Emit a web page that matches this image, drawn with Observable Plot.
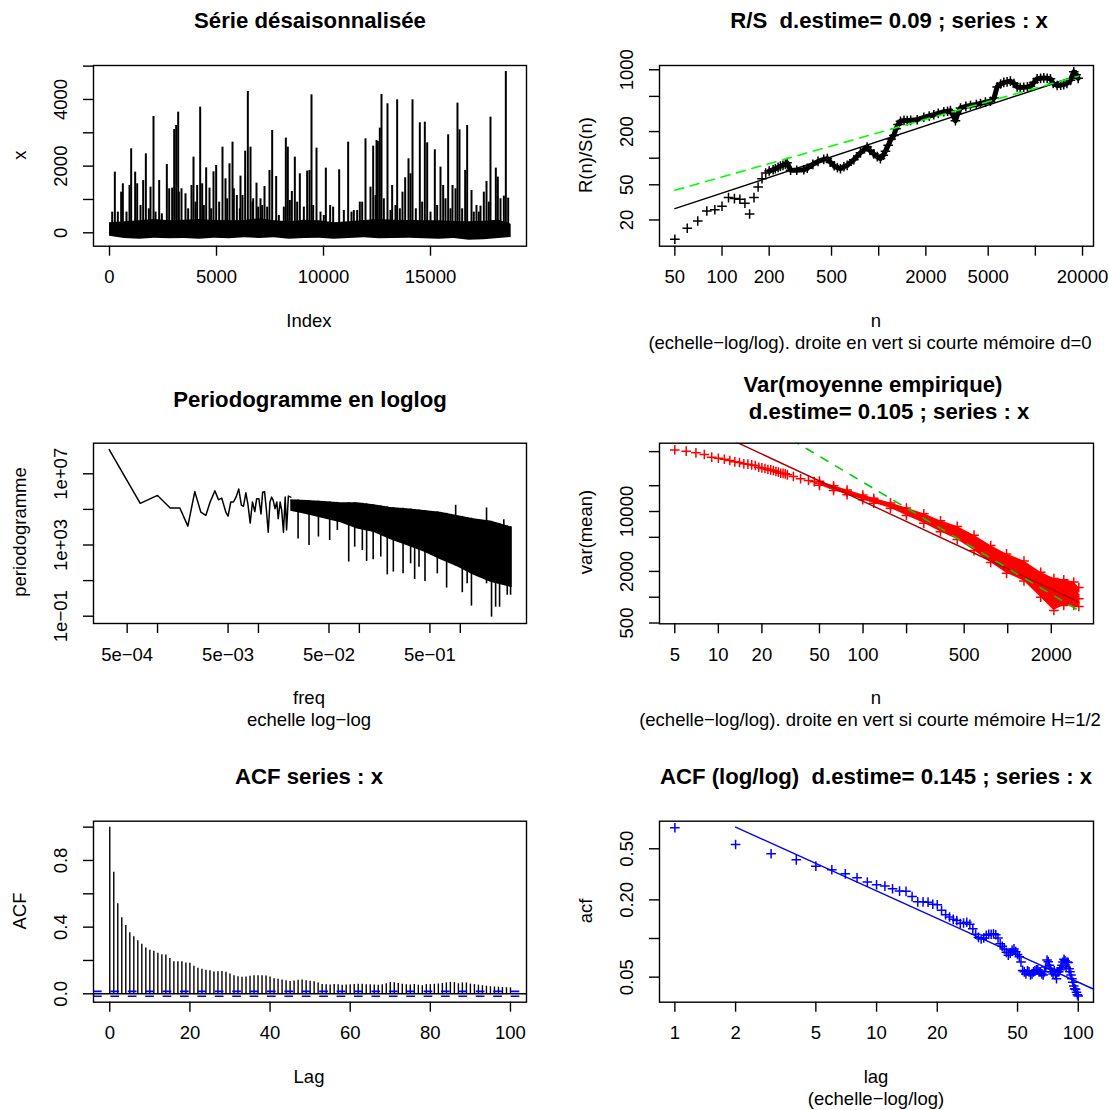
<!DOCTYPE html>
<html><head><meta charset="utf-8">
<script src="https://cdn.jsdelivr.net/npm/d3@7"></script>
<script src="https://cdn.jsdelivr.net/npm/@observablehq/plot@0.6"></script>
<style>
body{margin:0;background:#fff;}
#wrap{position:relative;width:1109px;height:1110px;overflow:hidden;background:#fff;font-family:"Liberation Sans",Arial,Helvetica,sans-serif;}
.t{position:absolute;white-space:pre;line-height:1;color:#000;}
</style></head><body><div id="wrap"></div>
<script>
// ---------------- DATA ----------------
// Panel 1: deseasonalised series (read spikes + baseline envelope)
const spikeIdx = [
 249,545,623,935,1012,1199,1293,1573,1698,1916,
 2056,2321,2679,2788,3022,3115,3209,3364,3551,3832,
 3925,4096,4237,4330,4517,4673,4860,4984,5280,5420,
 5607,5748,5950,6121,6339,6464,6589,6713,6869,7056,
 7243,7476,7601,7788,8240,8333,8520,8660,8894,9237,
 9346,9439,9673,10109,10311,10732,11152,11417,11697,11962,
 12321,12477,12539,12632,12710,12990,13208,13442,13691,13816,
 13972,14065,14159,14501,14735,14844,15202,15467,15592,15825,
 16028,16261,16355,16620,16713,16916,17149,17336,17492,17617,
 17803,18053,18146,18427,18520,18629,
 125,389,794,1449,1838,2150,2445,2928,3240,3676,
 4019,4408,4751,5125,5498,5810,6090,6215,6682,6947,
 7134,7367,7913,8146,8427,8769,9081,9517,9860,10015,
 10451,10950,11308,11573,11807,12196,12430,12819,13131,13364,
 13567,14314,14610,15000,15311,15701,15934,16168,16479,17024,
 17258,17725,18271];
const spikeVal = [
 1820,1220,1470,1420,2520,1820,1470,1570,2370,1370,
 3490,1570,2050,1320,3100,3220,3620,1320,1170,1420,
 2270,1420,3770,1470,1950,1340,1830,2020,2570,1620,
 2070,2720,1120,1700,2450,4240,2570,1020,1490,1020,
 1390,1870,3070,1690,2840,2570,1240,2270,1770,1850,
 1870,4140,2540,1940,820,1890,2720,670,920,2820,
 2600,2770,2740,3140,4150,3870,1420,3990,1220,1650,
 2220,1770,3990,3300,3320,2700,2490,1970,1420,2940,
 1420,3890,3090,1870,3220,1270,820,800,1220,1540,
 3470,1940,1670,1100,4840,1040,
 620,620,620,820,720,620,570,1340,1220,720,
 920,820,720,920,1020,1320,720,1120,920,770,
 820,770,520,770,970,920,770,820,620,520,
 770,670,620,670,920,1370,1120,1020,670,820,
 720,720,920,620,820,1020,720,1320,720,620,
 620,920,1020];
const envIdx  = [1,700,1400,2100,2800,3500,4200,4900,5600,6300,7000,7700,8400,9100,9800,10500,11200,11900,12600,13300,14000,14700,15400,16100,16800,17500,18200,18770];
const envLow  = [-100,-170,-190,-160,-180,-170,-190,-160,-180,-150,-170,-150,-190,-170,-160,-190,-170,-150,-180,-170,-160,-180,-190,-170,-220,-210,-170,-140];
const envHigh = [300,330,360,400,360,380,400,370,360,370,420,360,330,380,360,300,330,370,400,380,370,360,360,340,330,350,380,260];

// Panel 2: R/S statistic
const rsN = [
 50,60,70,80,90,100,110,120,130,140,
 150,160,170,180,190];
const rsVal = [
 12.1,16.1,19.5,25.3,26.1,28.6,35.8,34.9,34.3,31.0,
 23.4,35.8,47.2,58.7,68.0];
const rsDenseN = [
 200,212,219,228,236,245,254,260,274,300,
 333,350,380,410,446,470,492,520,545,570,
 600,629,694,765,844,880,931,980,1026,1070,
 1104,1150,1200,1249,1290,1330,1378,1450,1520,1600,
 1761,1941,2100,2248,2400,2605,2750,2871,2950,3090,
 3200,3327,3600,3854,4200,4465,4800,5170,5450,5700,
 6000,6290,6600,6930,7300,7650,8000,8430,8900,9300,
 9800,10260,10800,11320,11900,12480,13000,13770,14500,15180,
 15900,16750,17590,18200,18760];
const rsDenseVal = [
 71.6,74,76,78.6,81.3,83,85.6,89,73,73,
 74,77,85,92,97,99,90,82,78,76,
 80,83,96,115,134,122,112,104,99,108,
 120,140,165,181,215,240,262,268,266,268,
 272,290,300,310,322,335,340,345,320,265,
 320,370,385,395,405,415,430,440,480,640,
 690,720,730,745,700,640,630,635,640,650,
 720,790,800,810,800,790,700,665,670,680,
 700,760,950,880,800];
const rsFitN = [50, 18760];
const rsFitVal = [26.9, 862];
const rsShortN = [50, 18760];
const rsShortVal = [43.3, 847];

// Panel 3: periodogram
const pgFreq = [3.32e-4,6.74e-4,1.0e-3,1.335e-3,1.664e-3,1.997e-3,2.34e-3,2.686e-3,3.01e-3,3.32e-3,
 3.7e-3,4.02e-3,4.33e-3,4.75e-3,5.0e-3,5.32e-3,5.65e-3,6.0e-3,6.38e-3,6.78e-3,
 7.1e-3,7.5e-3,7.86e-3,8.28e-3,8.72e-3,9.2e-3,9.6e-3,1.01e-2,1.06e-2,1.1e-2,
 1.15e-2,1.2e-2,1.25e-2,1.3e-2,1.35e-2,1.4e-2,1.46e-2,1.52e-2,1.57e-2,1.64e-2,
 1.7e-2,1.77e-2,1.84e-2,1.9e-2,1.98e-2,2.09e-2];
const pgVal = [2.3e8,2.2e5,6.1e5,1.2e5,1.2e5,1.15e4,1.0e6,7.0e4,4.6e4,2.6e5,
 1.1e6,3.5e5,4.3e5,7.0e4,4.2e4,2.6e5,2.6e5,4.9e5,1.4e6,1.7e5,
 1.5e5,8.5e5,2.0e5,1.7e4,2.6e5,7.6e4,4.0e5,4.0e5,5.6e4,9.3e5,
 1.0e6,8.7e4,5.2e3,2.6e5,4.9e5,3.2e5,1.1e5,2.6e5,3.0e4,2.6e5,
 8.7e4,5.2e3,4.9e5,7.1e3,5.6e5,4.9e5];
const pgBandFreq = [2.09e-2,3.06e-2,4.47e-2,6.53e-2,9.55e-2,0.140,0.204,0.299,0.437,0.638,0.934,1.36,2.0,3.27];
const pgBandTop  = [3.5e5,3.2e5,2.8e5,2.4e5,2.4e5,1.8e5,1.3e5,1.1e5,8.7e4,7.0e4,4.6e4,3.0e4,2.2e4,1.0e4];
const pgBandBot  = [8.0e4,5.0e4,3.0e4,1.8e4,8.0e3,5.0e3,2.0e3,900,400,150,60,20,8,4];
const pgDipFreq = [2.47e-2,3.17e-2,3.93e-2,5.08e-2,6.05e-2,7.84e-2,8.99e-2,0.107,0.118,0.137,
 0.163,0.189,0.217,0.271,0.322,0.353,0.390,0.447,0.592,0.732,
 1.047,1.17,1.29,1.82,2.04,2.24,2.45,2.92,3.15];
const pgDipVal = [2.2e3,940,2.8e3,1.8e3,6.5e3,110,760,490,120,150,
 210,21,30,24,88,11.6,57,8.9,24,3.8,
 2.1,6.6,0.37,6.6,0.089,0.32,0.32,1.5,1.5];
const pgPeakFreq = [0.900,1.82,2.70];
const pgPeakVal = [1.7e5,1.2e5,2.6e4];

// Panel 4: variance of the empirical mean
const vmN = [5,6,7,8,9,10,11,12,13,14,15,16,17,18,19,20,21,22,23,24,25,26,27,28,29,30,33,37,42,46];
const vmVal = [52400,50600,48400,46300,43100,41900,40800,39400,38000,37300,36000,35700,35000,34400,32900,32300,31800,30900,30600,30100,29300,28800,28000,27900,27500,26800,25600,24100,23000,22300];
const vbN    = [50,62.6,77.6,99.6,118.6,154.8,199.4,263,343,448,585,763,982,1295,1690,2085,2440,2860,3100];
const vbMid  = [21400,18900,16800,14700,13400,11750,10000,8440,6870,5740,4390,3210,2560,2050,1500,1250,1200,1095,957];
const vbLow  = [20200,17600,15700,13700,12500,10900,9000,7300,5800,4700,3500,2550,1900,1550,1000,700,800,800,780];
const vbHigh = [22600,20000,17800,15600,14300,12600,11000,9400,7800,6700,5300,4000,3200,2650,1950,1650,1600,1500,1300];
const vmFitN = [5, 3050];
const vmFitVal = [139500, 891];
const vmShortN = [5, 3050];
const vmShortVal = [445000, 711];

// Panel 5 & 6: autocorrelation, lags 0..100
const acfVal = [1,
 0.729,0.54,0.457,0.41,0.366,0.343,0.319,0.297,0.275,0.262,
 0.256,0.244,0.234,0.233,0.212,0.193,0.193,0.192,0.185,0.183,
 0.166,0.153,0.147,0.141,0.138,0.131,0.132,0.134,0.129,0.119,
 0.108,0.102,0.099,0.101,0.106,0.108,0.108,0.109,0.107,0.101,
 0.091,0.087,0.083,0.078,0.074,0.077,0.081,0.083,0.079,0.075,
 0.072,0.0655,0.0564,0.055,0.053,0.056,0.055,0.052,0.053,0.055,
 0.056,0.057,0.057,0.055,0.055,0.053,0.052,0.055,0.06,0.068,
 0.066,0.062,0.058,0.055,0.053,0.056,0.052,0.0486,0.055,0.055,
 0.057,0.059,0.062,0.0655,0.069,0.067,0.06,0.0655,0.065,0.058,
 0.055,0.052,0.0486,0.0457,0.0426,0.0406,0.040,0.0381,0.0365,0.0356];
const acfCI = 0.0143;
const acfFitLag = [2, 120];
const acfFitVal = [0.737, 0.0401];

// Tick values and labels
const p1xT = [0,5000,10000,15000], p1xL = ["0","5000","10000","15000"];
const p1yT = [0,1000,2000,3000,4000,5000], p1yL = ["0","","2000","","4000",""];
const p2xT = [50,100,200,500,1000,2000,5000,10000,20000], p2xL = ["50","100","200","500","","2000","5000","","20000"];
const p2yT = [20,50,100,200,500,1000], p2yL = ["20","50","","200","","1000"];
const p3xT = [5e-4,1e-3,5e-3,1e-2,5e-2,1e-1,5e-1,1], p3xL = ["5e\u221204","","5e\u221203","","5e\u221202","","5e\u221201",""];
const p3yT = [1e-1,1e1,1e3,1e5,1e7], p3yL = ["1e\u221201","","1e+03","","1e+07"];
const p4xT = [5,10,20,50,100,200,500,1000,2000], p4xL = ["5","10","20","50","100","","500","","2000"];
const p4yT = [500,1000,2000,5000,10000,20000,50000], p4yL = ["500","","2000","","10000","",""];
const p5xT = [0,20,40,60,80,100], p5xL = ["0","20","40","60","80","100"];
const p5yT = [0,0.2,0.4,0.6,0.8,1.0], p5yL = ["0.0","","0.4","","0.8",""];
const p6xT = [1,2,5,10,20,50,100], p6xL = ["1","2","5","10","20","50","100"];
const p6yT = [0.05,0.1,0.2,0.5], p6yL = ["0.05","","0.20","0.50"];

// ---------------- DRAWING ----------------
const FONT = '"Liberation Sans", Arial, Helvetica, sans-serif';
const AX = 18.5, TI = 22.2;
const wrap = document.getElementById("wrap");
const zip = (a, b) => a.map((d, i) => ({x: d, y: b[i]}));

function panel(cell, box, xs, ys, marks, xT, xL, yT, yL) {
  const [cx, cy, cw, ch] = cell, [x0, y0, x1, y1] = box;
  const svg = Plot.plot({
    width: cw, height: ch,
    marginLeft: x0 - cx, marginRight: cx + cw - x1, marginTop: y0 - cy, marginBottom: cy + ch - y1,
    x: xs, y: ys,
    style: {fontFamily: FONT, fontSize: AX + "px", background: "transparent", overflow: "visible", color: "black"},
    marks: [
      ...marks,
      Plot.frame({stroke: "black", strokeWidth: 1.4}),
      Plot.axisX(xT, {tickSize: 10, tickFormat: () => "", label: null, strokeWidth: 1.4}),
      Plot.axisY(yT, {tickSize: 10, tickFormat: () => "", label: null, strokeWidth: 1.4}),
      Plot.text(xT.map((v, i) => ({v, l: xL[i]})), {x: "v", text: "l", frameAnchor: "bottom", dy: 24, lineAnchor: "top", fontSize: AX, fill: "black"}),
      Plot.text(yT.map((v, i) => ({v, l: yL[i]})), {y: "v", text: "l", frameAnchor: "left", dx: -27, rotate: -90, textAnchor: "middle", lineAnchor: "bottom", fontSize: AX, fill: "black"})
    ]
  });
  svg.style.position = "absolute";
  svg.style.left = cx + "px";
  svg.style.top = cy + "px";
  wrap.appendChild(svg);
}

function txt(s, x, y, {bold = false, size = AX, rot = false} = {}) {
  const d = document.createElement("div");
  d.className = "t";
  d.textContent = s;
  d.style.left = x + "px";
  d.style.top = y + "px";
  d.style.fontSize = size + "px";
  d.style.fontWeight = bold ? "bold" : "normal";
  d.style.transform = "translate(-50%,-50%)" + (rot ? " rotate(-90deg)" : "");
  wrap.appendChild(d);
}

function logInterp(xs, ys, x) {
  const lx = Math.log10(x);
  for (let i = 0; i < xs.length - 1; i++) {
    if (x >= xs[i] && x <= xs[i + 1]) {
      const t = (lx - Math.log10(xs[i])) / (Math.log10(xs[i + 1]) - Math.log10(xs[i]));
      return 10 ** (Math.log10(ys[i]) * (1 - t) + Math.log10(ys[i + 1]) * t);
    }
  }
  return x < xs[0] ? ys[0] : ys[ys.length - 1];
}

// Panel 1
panel([0, 0, 554, 370], [93, 65, 526, 245.7],
  {type: "linear", domain: [-748, 19486]}, {type: "linear", domain: [-402, 5019]},
  [
    Plot.areaY(envIdx.map((d, i) => ({x: d, lo: envLow[i], hi: envHigh[i]})), {x: "x", y1: "lo", y2: "hi", fill: "black"}),
    Plot.ruleX(zip(spikeIdx, spikeVal), {x: "x", y1: 0, y2: "y", stroke: "black", strokeWidth: 2})
  ], p1xT, p1xL, p1yT, p1yL);

// Panel 2
const plus = (data, color, r = 3.2, sw = 1.5) => Plot.dot(data, {x: "x", y: "y", symbol: "plus", r, stroke: color, strokeWidth: sw});
panel([554, 0, 555, 370], [659, 65, 1093, 245.7],
  {type: "log", domain: [39.9, 23500]}, {type: "log", domain: [10.1, 1118]},
  [
    plus(zip(rsN, rsVal), "black"),
    Plot.line(zip(rsDenseN, rsDenseVal), {x: "x", y: "y", stroke: "black", strokeWidth: 5}),
    plus(zip(rsDenseN, rsDenseVal), "black"),
    Plot.line(zip(rsFitN, rsFitVal), {x: "x", y: "y", stroke: "black", strokeWidth: 1.4}),
    Plot.line(zip(rsShortN, rsShortVal), {x: "x", y: "y", stroke: "#00ff00", strokeWidth: 1.6, strokeDasharray: "9,7"})
  ], p2xT, p2xL, p2yT, p2yL);

// Panel 3
panel([0, 370, 554, 370], [93, 442.7, 526, 623],
  {type: "log", domain: [2.32e-4, 4.53]}, {type: "log", domain: [0.0389, 5.24e8]},
  [
    Plot.line(zip(pgFreq, pgVal), {x: "x", y: "y", stroke: "black", strokeWidth: 1.5}),
    Plot.areaY(pgBandFreq.map((d, i) => ({x: d, lo: pgBandBot[i], hi: pgBandTop[i]})), {x: "x", y1: "lo", y2: "hi", fill: "black"}),
    Plot.ruleX(pgDipFreq.map((d, i) => ({x: d, lo: pgDipVal[i], hi: logInterp(pgBandFreq, pgBandTop, d)})), {x: "x", y1: "lo", y2: "hi", stroke: "black", strokeWidth: 1.6}),
    Plot.ruleX(pgPeakFreq.map((d, i) => ({x: d, lo: logInterp(pgBandFreq, pgBandBot, d), hi: pgPeakVal[i]})), {x: "x", y1: "lo", y2: "hi", stroke: "black", strokeWidth: 1.6})
  ], p3xT, p3xL, p3yT, p3yL);

// Panel 4
panel([554, 370, 555, 370], [659, 442.7, 1093, 623.3],
  {type: "log", domain: [3.92, 3916]}, {type: "log", domain: [489.5, 62700]},
  [
    Plot.areaY(vbN.map((d, i) => ({x: d, lo: vbLow[i], hi: vbHigh[i]})), {x: "x", y1: "lo", y2: "hi", fill: "#ff0000"}),
    plus(zip(vmN, vmVal), "#ff0000"),
    plus(zip(vbN, vbMid), "#ff0000"),
    plus(zip(vbN, vbLow), "#ff0000"),
    plus(zip(vbN, vbHigh), "#ff0000"),
    Plot.line(zip(vmFitN, vmFitVal), {x: "x", y: "y", stroke: "#b00000", strokeWidth: 1.4, clip: true}),
    Plot.line(zip(vmShortN, vmShortVal), {x: "x", y: "y", stroke: "#00cd00", strokeWidth: 1.6, strokeDasharray: "8,9", clip: true})
  ], p4xT, p4xL, p4yT, p4yL);

// Panel 5
const lags = acfVal.map((d, i) => i);
panel([0, 740, 554, 370], [93, 820.7, 526, 1001.7],
  {type: "linear", domain: [-4.06, 104]}, {type: "linear", domain: [-0.0504, 1.0356]},
  [
    Plot.ruleX(zip(lags, acfVal), {x: "x", y1: 0, y2: "y", stroke: "black", strokeWidth: 1.4}),
    Plot.ruleY([0], {stroke: "black", strokeWidth: 1.4}),
    Plot.ruleY([acfCI, -acfCI], {stroke: "#0000ff", strokeWidth: 1.6, strokeDasharray: "8.7,8.7"})
  ], p5xT, p5xL, p5yT, p5yL);

// Panel 6
panel([554, 740, 555, 370], [659, 820.7, 1093, 1001.7],
  {type: "log", domain: [0.839, 119]}, {type: "log", domain: [0.0319, 0.820]},
  [
    plus(zip(lags.slice(1), acfVal.slice(1)), "#0000ff"),
    Plot.line(zip(acfFitLag, acfFitVal), {x: "x", y: "y", stroke: "#0000ff", strokeWidth: 1.4, clip: true})
  ], p6xT, p6xL, p6yT, p6yL);

// Titles and axis labels
txt("Série désaisonnalisée", 310, 21, {bold: true, size: TI});
txt("x", 20, 155, {rot: true});
txt("Index", 309, 321);
txt("R/S  d.estime= 0.09 ; series : x", 889, 21, {bold: true, size: TI});
txt("R(n)/S(n)", 586, 155, {rot: true});
txt("n", 876, 321);
txt("(echelle\u2212log/log). droite en vert si courte mémoire d=0", 870, 343);
txt("Periodogramme en loglog", 310, 400, {bold: true, size: TI});
txt("periodogramme", 20, 532, {rot: true});
txt("freq", 309, 698);
txt("echelle log\u2212log", 309, 720);
txt("Var(moyenne empirique)", 873, 385, {bold: true, size: TI});
txt("d.estime= 0.105 ; series : x", 889, 412, {bold: true, size: TI});
txt("var(mean)", 586, 532, {rot: true});
txt("n", 876, 698);
txt("(echelle\u2212log/log). droite en vert si courte mémoire H=1/2", 870, 720);
txt("ACF series : x", 309, 777, {bold: true, size: TI});
txt("ACF", 20, 911, {rot: true});
txt("Lag", 309, 1077);
txt("ACF (log/log)  d.estime= 0.145 ; series : x", 876, 777, {bold: true, size: TI});
txt("acf", 586, 911, {rot: true});
txt("lag", 876, 1077);
txt("(echelle\u2212log/log)", 876, 1099);
</script></body></html>
